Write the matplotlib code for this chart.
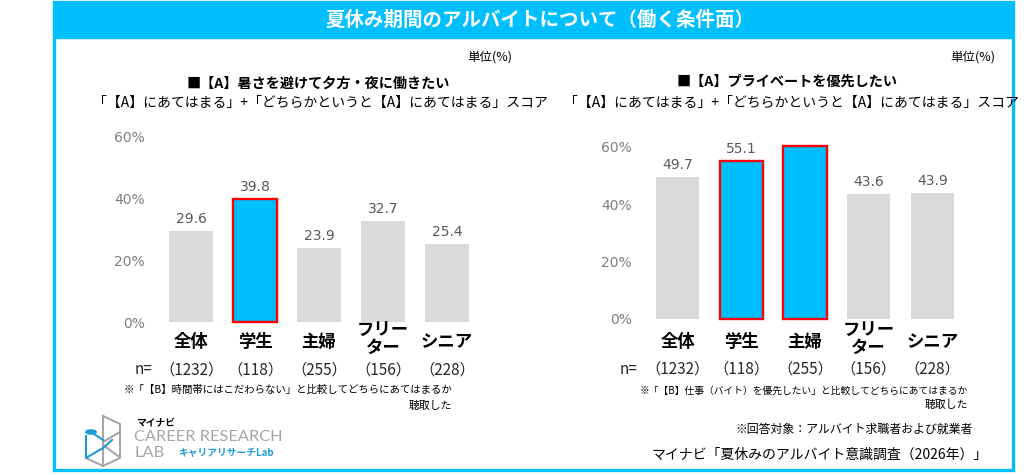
import matplotlib
matplotlib.use("Agg")
import matplotlib.pyplot as plt
from matplotlib.patches import Rectangle, Circle
from matplotlib.lines import Line2D
import matplotlib.transforms as mtransforms

plt.rcParams['font.family'] = ['Noto Sans CJK JP', 'DejaVu Sans']

# ---------------- data ----------------
categories = ["全体", "学生", "主婦", "フリー\nター", "シニア"]
n_labels = ["（1232）", "（118）", "（255）", "（156）", "（228）"]
left_values = [29.6, 39.8, 23.9, 32.7, 25.4]
right_values = [49.7, 55.1, 60.4, 43.6, 43.9]
left_highlight = [False, True, False, False, False]
right_highlight = [False, True, True, False, False]
yticks = [0, 20, 40, 60]
ytick_labels = ["0%", "20%", "40%", "60%"]

main_title = "夏休み期間のアルバイトについて（働く条件面）"
left_title = "■【A】暑さを避けて夕方・夜に働きたい"
right_title = "■【A】プライベートを優先したい"
subtitle = "「【A】にあてはまる」+「どちらかというと【A】にあてはまる」スコア"
unit_text = "単位(%)"
left_note = "※「【B】時間帯にはこだわらない」と比較してどちらにあてはまるか"
right_note = "※「【B】仕事（バイト）を優先したい」と比較してどちらにあてはまるか"
note2 = "聴取した"
target_note = "※回答対象：アルバイト求職者および就業者"
source_note = "マイナビ「夏休みのアルバイト意識調査（2026年）」"

CYAN = "#00BFFF"
GRAY = "#D9D9D9"
RED = "#FF0000"
NUMFONT = ["DejaVu Sans"]

W, H = 1028, 475
fig = plt.figure(figsize=(W / 100, H / 100), dpi=100)
fig.patch.set_facecolor("white")


def fx(x):
    return x / W


def fy(y):
    return 1 - y / H


def ftext(x, y, s, **kw):
    fig.text(fx(x), fy(y), s, **kw)


# ---------------- frame & title bar ----------------
fig.patches.append(Rectangle((fx(54), fy(470)), fx(1013) - fx(54), fy(2) - fy(470),
                             transform=fig.transFigure, fill=False,
                             edgecolor=CYAN, linewidth=2.4, zorder=0))
fig.patches.append(Rectangle((fx(54), fy(38)), fx(1013) - fx(54), fy(2) - fy(38),
                             transform=fig.transFigure, facecolor=CYAN,
                             edgecolor=CYAN, linewidth=1, zorder=0))
ftext(540, 20, main_title, ha="center", va="center", color="white",
      fontsize=14, fontweight="bold")


def make_chart(ax_box, values, highlight, title, title_xy, sub_xy, unit_xy,
               note, note_fs, note_xy, note2_xy, n_xy):
    x0, y0, x1, y1 = ax_box  # pixel coords: left, top, right, bottom
    ax = fig.add_axes([fx(x0), fy(y1), fx(x1) - fx(x0), fy(y0) - fy(y1)])
    for i, v in enumerate(values):
        if highlight[i]:
            ax.bar(i, v, width=0.68, color=CYAN, edgecolor=RED, linewidth=1.7,
                   clip_on=False, zorder=3)
        else:
            ax.bar(i, v, width=0.68, color=GRAY, edgecolor="none",
                   clip_on=False, zorder=3)
        ax.annotate(f"{v:.1f}", (i, v), xytext=(0, 3.5), textcoords="offset points",
                    ha="center", va="bottom", fontsize=10, color="#595959",
                    family=NUMFONT)
    ax.set_xlim(-0.5, len(values) - 0.5)
    ax.set_ylim(0, 60)
    ax.set_yticks(yticks)
    ax.set_yticklabels(ytick_labels, fontsize=10, color="#7F7F7F",
                       family=NUMFONT)
    ax.set_xticks([])
    ax.tick_params(axis="y", length=0, pad=10)
    for s in ax.spines.values():
        s.set_visible(False)
    ax.patch.set_alpha(0)

    tr = mtransforms.blended_transform_factory(ax.transData, fig.transFigure)
    for i, c in enumerate(categories):
        if "\n" in c:
            ax.text(i, fy(339), c, transform=tr, ha="center", va="center",
                    fontsize=12.5, fontweight="bold", color="black",
                    linespacing=0.95)
        else:
            ax.text(i, fy(342), c, transform=tr, ha="center", va="center",
                    fontsize=12.5, fontweight="bold", color="black")
        ax.text(i, fy(n_xy[1]), n_labels[i], transform=tr, ha="center",
                va="center", fontsize=11, color="#262626")
    ftext(n_xy[0], n_xy[1], "n=", ha="left", va="center", fontsize=11,
          color="#262626")

    ftext(title_xy[0], title_xy[1], title, ha="center", va="center",
          fontsize=10.2, fontweight="bold", color="black")
    ftext(sub_xy[0], sub_xy[1], subtitle, ha="center", va="center",
          fontsize=10, color="black")
    ftext(unit_xy[0], unit_xy[1], unit_text, ha="right", va="center",
          fontsize=9, color="black")
    ftext(note_xy[0], note_xy[1], note, ha="right", va="center",
          fontsize=note_fs, color="black")
    ftext(note2_xy[0], note2_xy[1], note2, ha="right", va="center",
          fontsize=7.8, color="black")
    return ax


make_chart((159, 137, 479, 322), left_values, left_highlight, left_title,
           (318, 84), (320, 103), (512, 57), left_note, 7.5, (452, 390),
           (452, 406), (135, 370))
make_chart((646, 147, 964, 319), right_values, right_highlight, right_title,
           (787, 82), (791, 103), (995, 57), right_note, 7.0, (968, 391),
           (968, 405), (620, 369))

ftext(973, 429, target_note, ha="right", va="center", fontsize=8.6, color="black")
ftext(988, 455, source_note, ha="right", va="center", fontsize=10, color="black")

# ---------------- logo ----------------
lg = "#A6A6A6"
blue = "#1E9BD7"


def pl(xs, ys, c, lw=1.5):
    fig.lines.append(Line2D([fx(x) for x in xs], [fy(y) for y in ys],
                            transform=fig.transFigure, color=c, linewidth=lw))


# cube-like outline
pl([103, 120, 120, 103, 86], [416, 424, 458, 466, 458], lg)
pl([103, 103], [416, 466], lg)
pl([103, 120], [442, 432], lg)
pl([103, 118], [445, 456], lg)
pl([86, 86, 103, 112], [436, 458, 448, 440], blue)
pl([91, 103], [432, 440], blue)
fig.patches.append(Circle((fx(91), fy(432)), 6 / W, transform=fig.transFigure,
                          facecolor=blue, edgecolor="none"))
ftext(136, 423, "マイナビ", ha="left", va="center", fontsize=7,
      fontweight="bold", color="black")
ftext(134, 437, "CAREER RESEARCH", ha="left", va="center", fontsize=11.8,
      color="#A6A6A6", family=["Lato", "DejaVu Sans"])
ftext(134, 453, "LAB", ha="left", va="center", fontsize=11.8,
      color="#A6A6A6", family=["Lato", "DejaVu Sans"])
ftext(178, 453, "キャリアリサーチLab", ha="left", va="center", fontsize=7,
      fontweight="bold", color=blue)

fig.savefig("out.png", dpi=100, facecolor="white")
